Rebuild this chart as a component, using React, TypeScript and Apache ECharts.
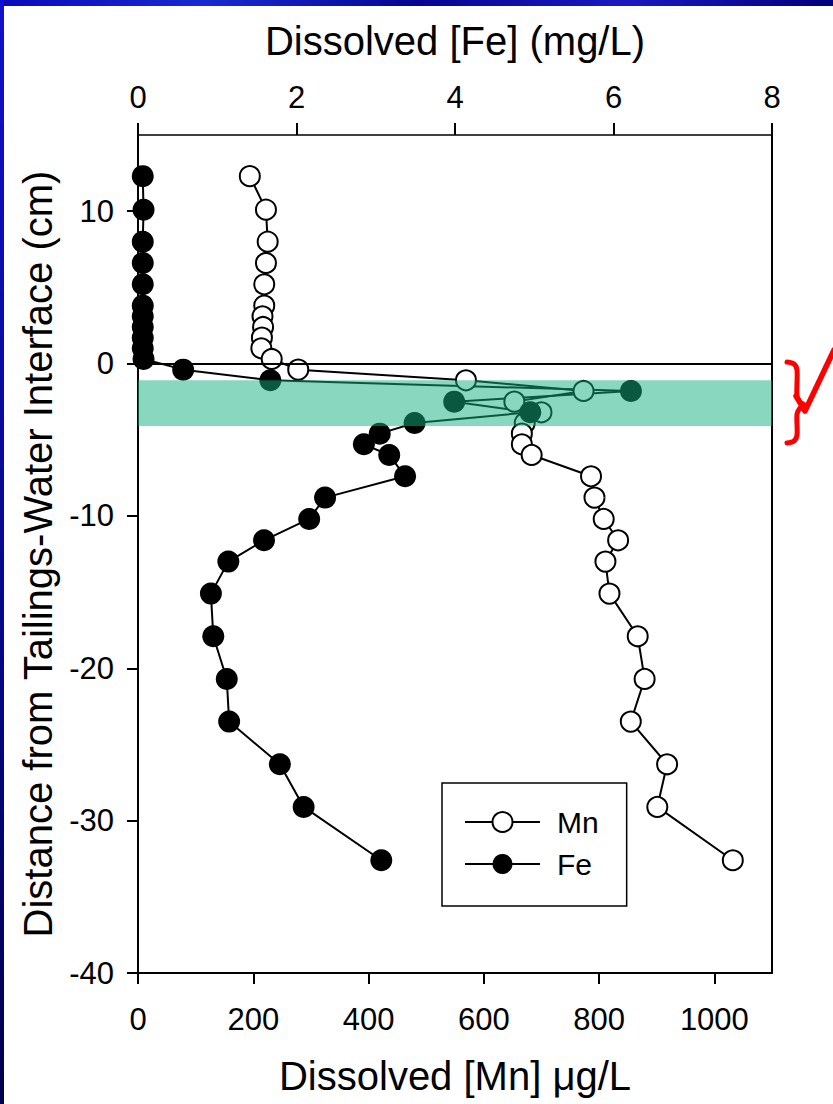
import React, { useEffect, useRef } from 'react';
import * as echarts from 'echarts';

// Depth below/above the tailings-water interface (cm)
const depthCm = [12.3, 10.1, 8.0, 6.6, 5.2, 3.8, 3.1, 2.4, 1.7, 1.0, 0.3, -0.4, -1.1, -1.8, -2.5, -3.2, -3.9, -4.6, -5.3, -6.0, -7.4, -8.8, -10.2, -11.6, -13.0, -15.1, -17.9, -20.7, -23.5, -26.3, -29.1, -32.6];
// Dissolved Mn (µg/L), bottom axis
const mnUgL = [194, 222, 225, 222, 219, 219, 216, 217, 215, 214, 232, 278, 569, 773, 653, 700, 671, 666, 666, 683, 786, 792, 808, 833, 811, 818, 867, 879, 855, 918, 901, 1032];
// Dissolved Fe (mg/L), top axis
const feMgL = [0.06, 0.07, 0.06, 0.06, 0.06, 0.06, 0.06, 0.06, 0.06, 0.06, 0.07, 0.57, 1.67, 6.22, 3.99, 4.95, 3.49, 3.05, 2.85, 3.17, 3.37, 2.36, 2.16, 1.59, 1.14, 0.92, 0.95, 1.12, 1.15, 1.79, 2.09, 3.07];

const mnTicks = [0, 200, 400, 600, 800, 1000];
const feTicks = [0, 2, 4, 6, 8];
const depthTicks = [-40, -30, -20, -10, 0, 10];
const interfaceDepth = 0;
const bandDepths = [-1.1, -4.1];

const FONT = "'Liberation Sans', Arial, Helvetica, sans-serif";

export default function App() {
  const ref = useRef<HTMLDivElement>(null);
  useEffect(() => {
    if (!ref.current) return;
    const chart = echarts.init(ref.current, undefined, { renderer: 'svg' });
    const mnData = depthCm.map((d, i) => [mnUgL[i], d]);
    const feData = depthCm.map((d, i) => [feMgL[i], d]);
    const labelStyle = { color: '#000', fontSize: 31, fontFamily: FONT, formatter: (v: number) => String(v) };
    const nameStyle = { color: '#000', fontSize: 40, fontFamily: FONT };
    chart.setOption({
      animation: false,
      backgroundColor: '#fff',
      grid: { left: 138, right: 61, top: 135, bottom: 131, containLabel: false },
      xAxis: [
        {
          type: 'value', position: 'bottom', min: 0, max: 1100, interval: 200,
          axisLine: { show: true, onZero: false, lineStyle: { color: '#000', width: 2 } },
          axisTick: { show: true, inside: false, length: 11, lineStyle: { color: '#000', width: 2 }, customValues: mnTicks },
          axisLabel: { ...labelStyle, margin: 31, customValues: mnTicks },
          splitLine: { show: false },
          name: 'Dissolved [Mn] \u03bcg/L', nameLocation: 'middle', nameGap: 83, nameTextStyle: nameStyle,
        },
        {
          type: 'value', position: 'top', min: 0, max: 8, interval: 2,
          axisLine: { show: true, onZero: false, lineStyle: { color: '#000', width: 1.5 } },
          axisTick: { show: true, inside: false, length: 12, lineStyle: { color: '#000', width: 2 }, customValues: feTicks },
          axisLabel: { ...labelStyle, margin: 22, customValues: feTicks },
          splitLine: { show: false },
          name: 'Dissolved [Fe] (mg/L)', nameLocation: 'middle', nameGap: 74, nameTextStyle: nameStyle,
        },
      ],
      yAxis: [
        {
          type: 'value', position: 'left', min: -40, max: 15, interval: 10,
          axisLine: { show: true, onZero: false, lineStyle: { color: '#000', width: 2 } },
          axisTick: { show: true, inside: false, length: 11, lineStyle: { color: '#000', width: 2 }, customValues: depthTicks },
          axisLabel: { ...labelStyle, margin: 24, customValues: depthTicks },
          splitLine: { show: false },
          name: 'Distance from Tailings-Water Interface (cm)', nameLocation: 'middle', nameGap: 79, nameTextStyle: nameStyle,
        },
        {
          type: 'value', position: 'right', min: -40, max: 15, interval: 10,
          axisLine: { show: true, onZero: false, lineStyle: { color: '#000', width: 2 } },
          axisTick: { show: false }, axisLabel: { show: false }, splitLine: { show: false },
        },
      ],
      legend: {
        data: ['Mn', 'Fe'], orient: 'vertical', left: 442, top: 783,
        padding: [24, 28, 27, 22], itemWidth: 75, itemHeight: 25, itemGap: 12,
        borderColor: '#000', borderWidth: 1.5, backgroundColor: '#fff',
        selectedMode: false,
        textStyle: { color: '#000', fontSize: 30, fontFamily: FONT, padding: [0, 0, 0, 12] },
      },
      series: [
        {
          name: 'Mn', type: 'line', xAxisIndex: 0, yAxisIndex: 0, data: mnData,
          symbol: 'circle', symbolSize: 20, showAllSymbol: true,
          lineStyle: { color: '#000', width: 2 },
          itemStyle: { color: '#fff', borderColor: '#000', borderWidth: 2 },
          markLine: {
            silent: true, symbol: 'none', label: { show: false },
            lineStyle: { color: '#000', width: 2, type: 'solid' },
            data: [{ yAxis: interfaceDepth }],
          },
        },
        {
          name: 'Fe', type: 'line', xAxisIndex: 1, yAxisIndex: 0, data: feData,
          symbol: 'circle', symbolSize: 22, showAllSymbol: true,
          lineStyle: { color: '#000', width: 2 },
          itemStyle: { color: '#000', borderColor: '#000', borderWidth: 0 },
          markArea: {
            silent: true, z: 10,
            itemStyle: { color: 'rgba(20,175,128,0.5)' },
            data: [[{ yAxis: bandDepths[0] }, { yAxis: bandDepths[1] }]],
          },
        },
      ],
      graphic: [
        {
          type: 'rect', left: 0, top: 0, z: 100,
          shape: { x: 0, y: 0, width: 833, height: 6 },
          style: {
            fill: new echarts.graphic.LinearGradient(0, 0, 1, 0, [
              { offset: 0, color: '#0a0ab8' },
              { offset: 0.25, color: '#1a2ad0' },
              { offset: 0.5, color: '#050590' },
              { offset: 0.75, color: '#1a1ac0' },
              { offset: 1, color: '#00007a' },
            ]),
          },
        },
        {
          type: 'rect', left: 0, top: 0, z: 100,
          shape: { x: 0, y: 0, width: 4, height: 1104 },
          style: {
            fill: new echarts.graphic.LinearGradient(0, 0, 0, 1, [
              { offset: 0, color: '#1010d0' },
              { offset: 1, color: '#000050' },
            ]),
          },
        },
        {
          type: 'polyline', z: 100,
          shape: {
            points: [[787, 362], [794, 364], [797, 370], [797, 396], [800, 402], [804, 405], [800, 408], [797, 414], [797, 435], [794, 441], [787, 443]],
            smooth: 0.3,
          },
          style: { stroke: '#ff0000', lineWidth: 5, fill: null, lineCap: 'round', lineJoin: 'round' },
        },
        {
          type: 'polyline', z: 100,
          shape: { points: [[796, 396], [805, 411], [834, 350]] },
          style: { stroke: '#ff0000', lineWidth: 5.5, fill: null, lineCap: 'round', lineJoin: 'round' },
        },
      ],
    });
    return () => chart.dispose();
  }, []);
  return (
    <div
      ref={ref}
      style={{ position: 'absolute', left: 0, top: 0, width: 833, height: 1104, background: '#fff' }}
    />
  );
}
